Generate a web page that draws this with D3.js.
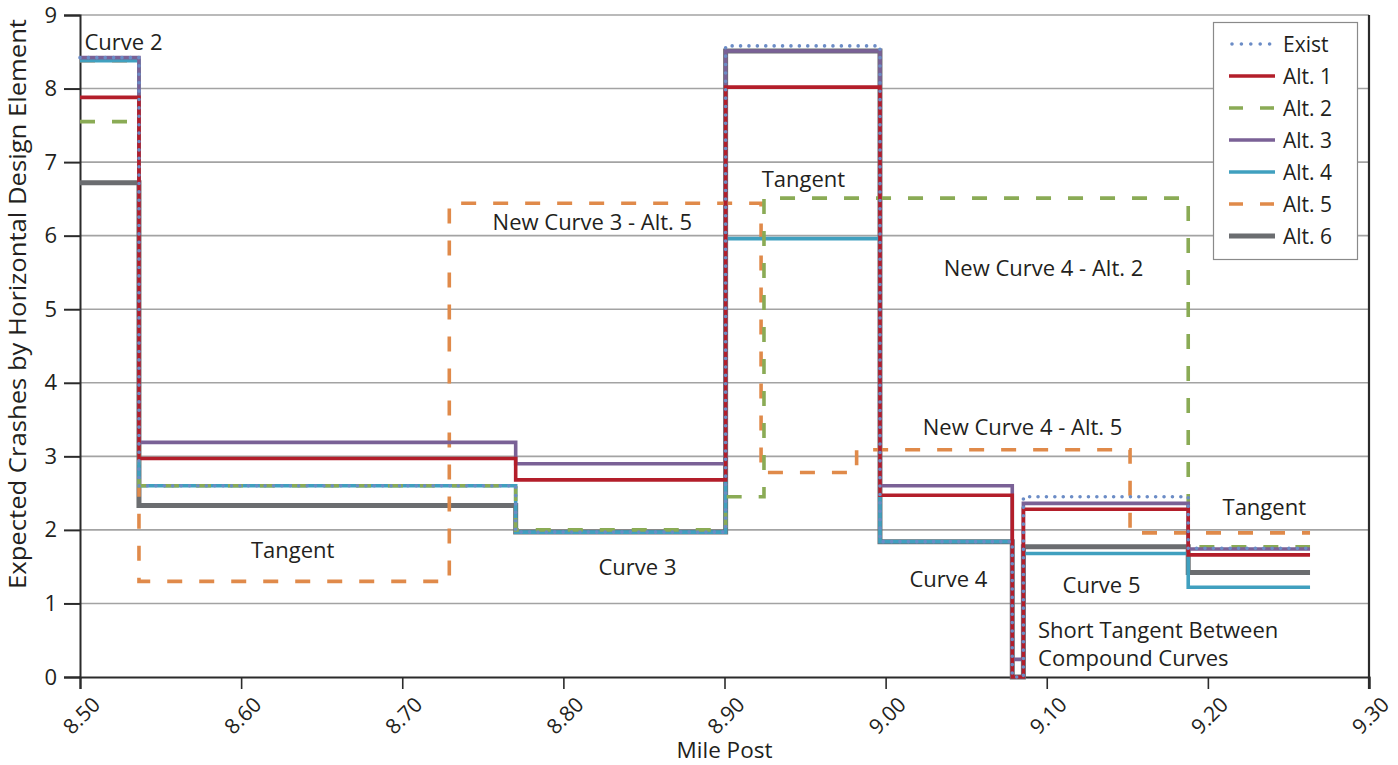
<!DOCTYPE html>
<html>
<head>
<meta charset="utf-8">
<script src="https://cdn.jsdelivr.net/npm/d3@7"></script>
<style>
  html, body { margin: 0; padding: 0; background: #fff; }
  svg { display: block; font-family: "Open Sans", "Noto Sans", sans-serif; }
</style>
</head>
<body>
<svg id="chart" width="1398" height="765"></svg>
<script>
// ---------------- data ----------------
const seriesNames = ["Exist", "Alt. 1", "Alt. 2", "Alt. 3", "Alt. 4", "Alt. 5", "Alt. 6"];

// common segment boundaries (mile post) for Exist, Alt 1, 3, 4, 6
const commonMP = [8.5, 8.5366, 8.7704, 8.9007, 8.9965, 9.0786, 9.0855, 9.1878, 9.2634];
const existVal = [8.42, 2.60, 1.97, 8.58, 1.84, 0, 2.45, 1.75];
const alt1Val  = [7.88, 2.97, 2.68, 8.02, 2.47, 0, 2.28, 1.66];
const alt3Val  = [8.42, 3.19, 2.90, 8.51, 2.60, 0.24, 2.36, 1.74];
const alt4Val  = [8.38, 2.60, 1.97, 5.96, 1.84, 0, 1.68, 1.22];
const alt6Val  = [6.72, 2.33, 1.97, 8.51, 1.84, 0, 1.77, 1.42];

const alt2MP  = [8.5, 8.5366, 8.7704, 8.9007, 8.9245, 9.1878, 9.2634];
const alt2Val = [7.55, 2.60, 2.00, 2.45, 6.51, 1.77];

const alt5MP  = [8.5, 8.5366, 8.7292, 8.9227, 8.982, 9.1517, 9.2634];
const alt5Val = [8.38, 1.30, 6.44, 2.78, 3.09, 1.96];

const xTicks = [8.5, 8.6, 8.7, 8.8, 8.9, 9.0, 9.1, 9.2, 9.3];
const xTickLabels = ["8.50", "8.60", "8.70", "8.80", "8.90", "9.00", "9.10", "9.20", "9.30"];
const yTicks = [0, 1, 2, 3, 4, 5, 6, 7, 8, 9];

const noteText = ["Curve 2", "Tangent", "New Curve 3 - Alt. 5", "Curve 3", "Tangent",
                  "New Curve 4 - Alt. 2", "New Curve 4 - Alt. 5", "Curve 4", "Curve 5", "Tangent"];
const noteMP  = [8.527, 8.632, 8.818, 8.846, 8.949, 9.098, 9.085, 9.039, 9.134, 9.235];
const noteVal = [8.63, 1.73, 6.19, 1.50, 6.77, 5.56, 3.40, 1.33, 1.25, 2.31];
const noteLeftText = ["Short Tangent Between", "Compound Curves"];
const noteLeftMP  = [9.0946, 9.0946];
const noteLeftVal = [0.635, 0.26];

// ---------------- styles ----------------
const styles = {
  "Exist":  { color: "#6b8cc6", width: 3.6, dash: "0 8.4", cap: "round" },
  "Alt. 1": { color: "#b31e2a", width: 3.6, dash: null, cap: "butt" },
  "Alt. 2": { color: "#8aab55", width: 3.6, dash: "15 17", cap: "butt" },
  "Alt. 3": { color: "#7a6196", width: 3.6, dash: null, cap: "butt" },
  "Alt. 4": { color: "#40a0bf", width: 3.6, dash: null, cap: "butt" },
  "Alt. 5": { color: "#e08a4a", width: 3.6, dash: "15 17", cap: "butt" },
  "Alt. 6": { color: "#6b6d70", width: 5.0, dash: null, cap: "butt" }
};

const seriesData = {
  "Exist":  [commonMP, existVal],
  "Alt. 1": [commonMP, alt1Val],
  "Alt. 2": [alt2MP, alt2Val],
  "Alt. 3": [commonMP, alt3Val],
  "Alt. 4": [commonMP, alt4Val],
  "Alt. 5": [alt5MP, alt5Val],
  "Alt. 6": [commonMP, alt6Val]
};
const drawOrder = ["Alt. 6", "Alt. 5", "Alt. 4", "Alt. 2", "Alt. 3", "Alt. 1", "Exist"];

// ---------------- layout ----------------
const svg = d3.select("#chart");
const pL = 80, pR = 1369, pT = 15, pB = 677;
const x = d3.scaleLinear().domain([8.5, 9.3]).range([pL, pR]);
const y = d3.scaleLinear().domain([0, 9]).range([pB, pT]);
const FONT = 21;
const NOTE_FONT = 22;

// gridlines
svg.append("g").selectAll("line").data(yTicks.filter(d => d > 0)).join("line")
  .attr("x1", pL).attr("x2", pR)
  .attr("y1", d => y(d)).attr("y2", d => y(d))
  .attr("stroke", "#a3a3a3").attr("stroke-width", 1.6);

// y axis
const yAxis = d3.axisLeft(y).tickValues(yTicks).tickSize(16).tickPadding(7).tickFormat(d3.format("d"));
const gy = svg.append("g").attr("transform", `translate(${pL},0)`).call(yAxis);
gy.select(".domain").attr("stroke", "#2b2b2b").attr("stroke-width", 2);
gy.selectAll(".tick line").attr("stroke", "#2b2b2b").attr("stroke-width", 2);
gy.selectAll(".tick text").attr("font-size", 22).attr("fill", "#231f20")
  .attr("font-family", "Open Sans, sans-serif");

// x axis
const xAxis = d3.axisBottom(x).tickValues(xTicks).tickSize(12).tickFormat((d, i) => xTickLabels[i]);
const gx = svg.append("g").attr("transform", `translate(0,${pB})`).call(xAxis);
gx.select(".domain").attr("stroke", "#2b2b2b").attr("stroke-width", 2.2);
gx.selectAll(".tick line").attr("stroke", "#2b2b2b").attr("stroke-width", 1.6);
gx.selectAll(".tick text")
  .attr("font-size", FONT).attr("fill", "#231f20").attr("font-family", "Open Sans, sans-serif")
  .attr("text-anchor", "end").attr("dy", null).attr("y", null)
  .attr("transform", "translate(21,29) rotate(-45)");

// right border
svg.append("line").attr("x1", pR).attr("x2", pR).attr("y1", pT).attr("y2", pB + 12)
  .attr("stroke", "#2b2b2b").attr("stroke-width", 2.2);

// series
const line = d3.line().x(d => x(d[0])).y(d => y(d[1])).curve(d3.curveStepAfter);
const gS = svg.append("g");
drawOrder.forEach(name => {
  const [mp, vals] = seriesData[name];
  const pts = vals.map((v, i) => [mp[i], v]);
  pts.push([mp[mp.length - 1], vals[vals.length - 1]]);
  const s = styles[name];
  gS.append("path").datum(pts).attr("d", line)
    .attr("fill", "none").attr("stroke", s.color).attr("stroke-width", s.width)
    .attr("stroke-dasharray", s.dash).attr("stroke-linecap", s.cap)
    .attr("stroke-linejoin", "miter");
});

// annotations
const gN = svg.append("g").attr("font-size", NOTE_FONT).attr("fill", "#231f20");
noteText.forEach((t, i) => {
  gN.append("text").attr("x", x(noteMP[i])).attr("y", y(noteVal[i]) + 8)
    .attr("text-anchor", "middle").text(t);
});
noteLeftText.forEach((t, i) => {
  gN.append("text").attr("x", x(noteLeftMP[i])).attr("y", y(noteLeftVal[i]) + 8)
    .attr("text-anchor", "start").text(t);
});

// axis titles
svg.append("text").attr("transform", "translate(26,304) rotate(-90)")
  .attr("text-anchor", "middle").attr("font-size", 23).attr("fill", "#231f20")
  .attr("textLength", 570).attr("lengthAdjust", "spacingAndGlyphs")
  .text("Expected Crashes by Horizontal Design Element");
svg.append("text").attr("x", (pL + pR) / 2).attr("y", 758)
  .attr("text-anchor", "middle").attr("font-size", 22.5).attr("fill", "#231f20")
  .text("Mile Post");

// legend
const lg = svg.append("g");
lg.append("rect").attr("x", 1213.5).attr("y", 22.5).attr("width", 144).attr("height", 237)
  .attr("fill", "#fff").attr("stroke", "#8a8a8a").attr("stroke-width", 1.2);
const legendY = d3.scalePoint().domain(seriesNames).range([44, 236]);
seriesNames.forEach(name => {
  const s = styles[name];
  const yy = legendY(name);
  lg.append("line").attr("x1", name === "Exist" ? 1232 : 1229).attr("x2", 1275)
    .attr("y1", yy).attr("y2", yy)
    .attr("stroke", s.color).attr("stroke-width", s.width)
    .attr("stroke-dasharray", name === "Exist" ? "0 9.4" : (s.dash ? "14 17" : null))
    .attr("stroke-linecap", s.cap);
  lg.append("text").attr("x", 1283).attr("y", yy + 7.5).attr("font-size", FONT)
    .attr("fill", "#231f20").text(name);
});
</script>
</body>
</html>
